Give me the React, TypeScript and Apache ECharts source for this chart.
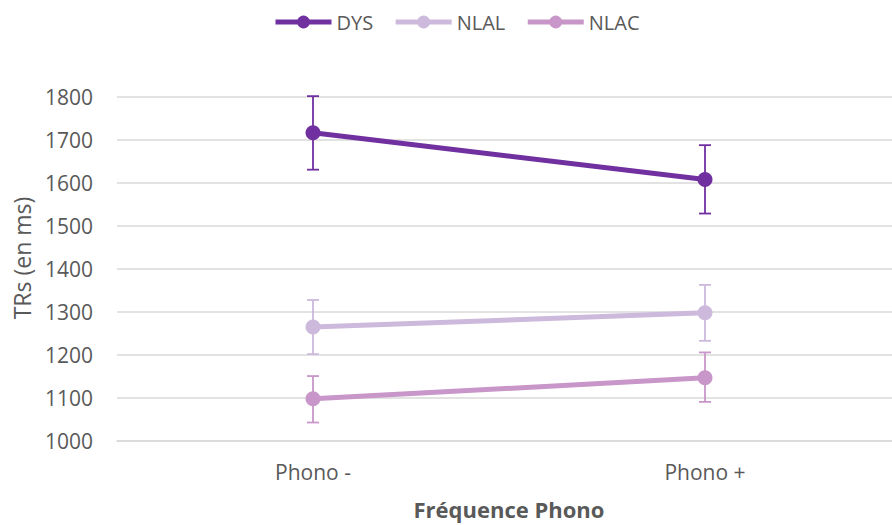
import React, { useEffect, useRef } from "react";
import * as echarts from "echarts";

const categories = ["Phono -", "Phono +"];
const seriesNames = ["DYS", "NLAL", "NLAC"];
const dysValues = [1717, 1608];
const nlalValues = [1265, 1298];
const nlacValues = [1098, 1147];
const dysLow = [1631, 1529];
const dysHigh = [1802, 1688];
const nlalLow = [1202, 1233];
const nlalHigh = [1328, 1363];
const nlacLow = [1043, 1091];
const nlacHigh = [1151, 1206];
const yTicks = { min: 1000, max: 1800, interval: 100 };
const colors = ["#7030A0", "#CDB9DC", "#C896C8"];

const FONT = "'Open Sans', sans-serif";
const TEXT = "#595959";

function errorSeries(name: string, low: number[], high: number[], color: string) {
  return {
    type: "custom",
    name: name + " err",
    z: 3,
    data: low.map((l, i) => [i, l, high[i]]),
    renderItem: (params: any, api: any) => {
      const x = api.value(0);
      const lo = api.coord([x, api.value(1)]);
      const hi = api.coord([x, api.value(2)]);
      const hw = 6;
      const style = { stroke: color, lineWidth: 1.8 };
      return {
        type: "group",
        children: [
          { type: "line", shape: { x1: lo[0], y1: lo[1], x2: hi[0], y2: hi[1] }, style },
          { type: "line", shape: { x1: lo[0] - hw, y1: lo[1], x2: lo[0] + hw, y2: lo[1] }, style },
          { type: "line", shape: { x1: hi[0] - hw, y1: hi[1], x2: hi[0] + hw, y2: hi[1] }, style },
        ],
      };
    },
  };
}

function lineSeries(name: string, values: number[], color: string) {
  return {
    type: "line",
    name,
    data: values,
    z: 4,
    symbol: "circle",
    symbolSize: 15,
    itemStyle: { color },
    lineStyle: { color, width: 5 },
  };
}

export default function App() {
  const ref = useRef<HTMLDivElement>(null);
  useEffect(() => {
    if (!ref.current) return;
    const chart = echarts.init(ref.current, null, { renderer: "svg" });
    chart.setOption({
      animation: false,
      backgroundColor: "#ffffff",
      textStyle: { fontFamily: FONT },
      legend: {
        data: seriesNames,
        left: 268,
        top: 7,
        itemWidth: 56,
        itemHeight: 16,
        itemGap: 20,
        lineStyle: { width: 5 },
        textStyle: { color: TEXT, fontSize: 20, fontFamily: FONT },
      },
      grid: { left: 117, right: 0, top: 97, bottom: 82, containLabel: false },
      xAxis: {
        type: "category",
        data: categories,
        boundaryGap: true,
        axisLine: { show: true, lineStyle: { color: "#D9D9D9", width: 1.5 } },
        axisTick: { show: false },
        axisLabel: { color: TEXT, fontSize: 21, margin: 20, fontFamily: FONT },
        name: "Fréquence Phono",
        nameLocation: "middle",
        nameGap: 57,
        nameTextStyle: { color: TEXT, fontSize: 22, fontWeight: "bold", fontFamily: FONT },
      },
      yAxis: {
        type: "value",
        min: yTicks.min,
        max: yTicks.max,
        interval: yTicks.interval,
        axisLine: { show: false },
        axisTick: { show: false },
        splitLine: { lineStyle: { color: "#D9D9D9", width: 1.5 } },
        axisLabel: {
          color: TEXT,
          fontSize: 21,
          margin: 24,
          fontFamily: FONT,
          formatter: (v: number) => String(v),
        },
      },
      graphic: [
        {
          type: "text",
          x: 22,
          y: 258,
          rotation: Math.PI / 2,
          style: {
            text: "TRs (en ms)",
            fill: TEXT,
            fontSize: 23,
            fontFamily: FONT,
            align: "center",
            verticalAlign: "middle",
          },
        },
      ],
      series: [
        lineSeries(seriesNames[0], dysValues, colors[0]),
        lineSeries(seriesNames[1], nlalValues, colors[1]),
        lineSeries(seriesNames[2], nlacValues, colors[2]),
        errorSeries(seriesNames[0], dysLow, dysHigh, colors[0]),
        errorSeries(seriesNames[1], nlalLow, nlalHigh, colors[1]),
        errorSeries(seriesNames[2], nlacLow, nlacHigh, colors[2]),
      ],
    });
    return () => chart.dispose();
  }, []);
  return (
    <div
      ref={ref}
      style={{ position: "fixed", left: 0, top: 0, width: 901, height: 525 }}
    />
  );
}
